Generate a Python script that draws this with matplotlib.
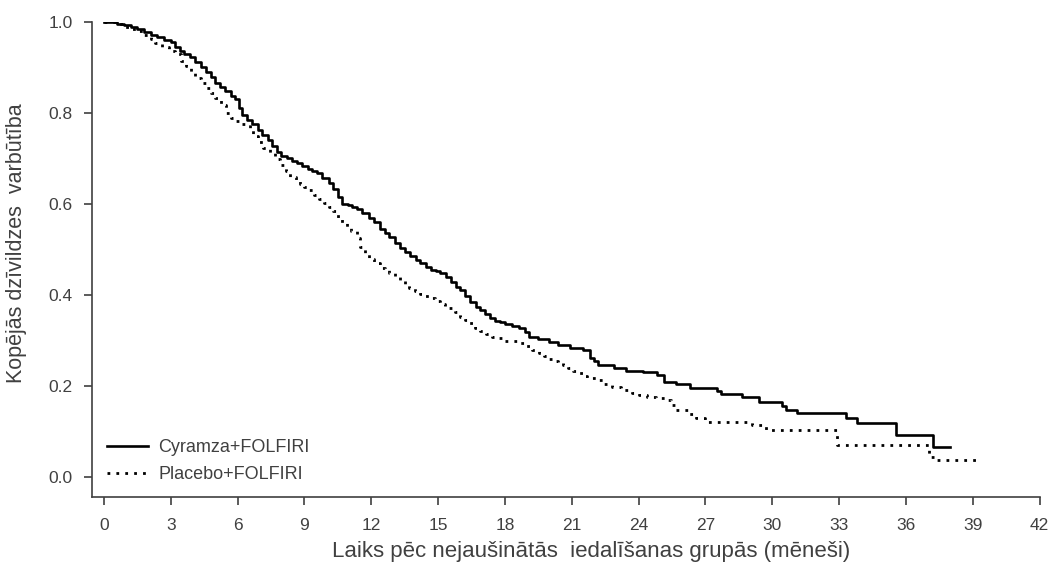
import matplotlib.pyplot as plt
import numpy as np

plt.rcParams['font.family'] = ['Liberation Sans', 'DejaVu Sans']

# Kaplan-Meier steps (months, survival probability)
cyr_t = [0, 0.3, 0.6, 0.9, 1.2, 1.5, 1.8, 2.1, 2.4, 2.7, 3.0, 3.2, 3.4, 3.6, 3.85,
         4.1, 4.35, 4.6, 4.8, 5.0, 5.2, 5.45, 5.7, 5.9, 6.05, 6.2, 6.4, 6.65, 6.9,
         7.1, 7.35, 7.55, 7.75, 7.95, 8.2, 8.45, 8.65, 8.9, 9.15, 9.35, 9.55, 9.8,
         10.1, 10.3, 10.5, 10.7, 10.95, 11.15, 11.35, 11.6, 11.9, 12.1, 12.4, 12.6,
         12.8, 13.05, 13.3, 13.5, 13.75, 14.0, 14.2, 14.45, 14.7, 14.9, 15.1,
         15.35, 15.6, 15.8, 16.0, 16.2, 16.45, 16.7, 16.9, 17.1, 17.35, 17.55,
         17.8, 18.0, 18.3, 18.65, 18.9, 19.1, 19.5, 20.0, 20.4, 20.9, 21.5, 21.8,
         22.0, 22.2, 22.9, 23.45, 24.2, 24.85, 25.15, 25.7, 26.3, 27.5, 27.7,
         28.65, 29.4, 30.45, 30.6, 31.1, 33.3, 33.8, 35.55, 37.2, 38.0]
cyr_s = [1.0, 1.0, 0.995, 0.993, 0.99, 0.985, 0.978, 0.972, 0.966, 0.96, 0.955,
         0.945, 0.936, 0.93, 0.922, 0.913, 0.902, 0.89, 0.878, 0.866, 0.858, 0.848,
         0.838, 0.83, 0.81, 0.795, 0.785, 0.775, 0.763, 0.752, 0.74, 0.727, 0.714,
         0.706, 0.70, 0.695, 0.69, 0.684, 0.678, 0.673, 0.668, 0.657, 0.646, 0.632,
         0.615, 0.60, 0.597, 0.593, 0.588, 0.58, 0.57, 0.56, 0.545, 0.536, 0.527,
         0.515, 0.503, 0.495, 0.486, 0.478, 0.47, 0.462, 0.456, 0.452, 0.448,
         0.44, 0.428, 0.418, 0.41, 0.398, 0.385, 0.374, 0.367, 0.358, 0.35, 0.344,
         0.34, 0.336, 0.332, 0.327, 0.318, 0.308, 0.303, 0.297, 0.291, 0.283,
         0.279, 0.262, 0.254, 0.246, 0.24, 0.233, 0.231, 0.224, 0.209, 0.204,
         0.196, 0.189, 0.182, 0.176, 0.165, 0.156, 0.147, 0.141, 0.13, 0.119,
         0.092, 0.066, 0.066]

pla_t = [0, 0.3, 0.6, 0.9, 1.2, 1.5, 1.8, 2.1, 2.3, 2.6, 2.9, 3.2, 3.45, 3.7, 3.9,
         4.1, 4.35, 4.6, 4.8, 5.0, 5.25, 5.5, 5.7, 5.9, 6.2, 6.55, 6.7, 6.9, 7.15,
         7.45, 7.7, 7.9, 8.15, 8.35, 8.6, 8.8, 9.0, 9.2, 9.45, 9.65, 9.9, 10.1,
         10.3, 10.5, 10.7, 10.9, 11.1, 11.35, 11.5, 11.7, 11.9, 12.1, 12.4, 12.6,
         12.8, 13.05, 13.3, 13.5, 13.7, 13.95, 14.2, 14.4, 14.6, 14.85, 15.1,
         15.3, 15.5, 15.75, 16.0, 16.2, 16.4, 16.65, 16.9, 17.15, 17.4, 17.75,
         18.0, 18.3, 18.65, 18.9, 19.2, 19.55, 19.75, 20.0, 20.2, 20.4, 20.6,
         20.85, 21.05, 21.3, 21.5, 21.7, 22.1, 22.4, 22.8, 23.2, 23.7, 24.0, 24.4,
         24.8, 25.2, 25.45, 25.7, 26.2, 26.6, 27.0, 29.1, 29.7, 32.9, 37.05, 37.3,
         39.2]
pla_s = [1.0, 1.0, 0.996, 0.99, 0.985, 0.98, 0.972, 0.962, 0.954, 0.945, 0.937,
         0.93, 0.915, 0.903, 0.89, 0.877, 0.866, 0.855, 0.844, 0.833, 0.818, 0.80,
         0.79, 0.782, 0.775, 0.763, 0.75, 0.736, 0.724, 0.712, 0.698, 0.685, 0.672,
         0.66, 0.652, 0.645, 0.637, 0.63, 0.62, 0.612, 0.602, 0.593, 0.584, 0.57,
         0.558, 0.55, 0.54, 0.525, 0.505, 0.49, 0.48, 0.47, 0.46, 0.454, 0.448,
         0.44, 0.43, 0.422, 0.415, 0.408, 0.402, 0.397, 0.393, 0.387, 0.38, 0.376,
         0.371, 0.362, 0.352, 0.345, 0.338, 0.328, 0.32, 0.314, 0.308, 0.305,
         0.30, 0.298, 0.294, 0.288, 0.28, 0.272, 0.266, 0.26, 0.256, 0.253, 0.247,
         0.24, 0.234, 0.228, 0.223, 0.218, 0.213, 0.205, 0.198, 0.192, 0.185,
         0.18, 0.176, 0.174, 0.169, 0.158, 0.147, 0.138, 0.13, 0.121, 0.114,
         0.103, 0.07, 0.044, 0.037, 0.037]

x_ticks = np.arange(0, 43, 3)
y_ticks = [0.0, 0.2, 0.4, 0.6, 0.8, 1.0]

grey = '#404040'

fig = plt.figure(figsize=(10.5, 5.78), dpi=100)
ax = fig.add_axes([0.088, 0.140, 0.902, 0.822])

ax.step(cyr_t, cyr_s, where='post', color='black', lw=1.9,
        label='Cyramza+FOLFIRI')
ax.step(pla_t, pla_s, where='post', color='black', lw=2.0,
        linestyle=(0, (1, 2.2)), label='Placebo+FOLFIRI')

ax.set_xlim(-0.52, 42)
ax.set_ylim(-0.044, 1.0)
ax.set_xticks(x_ticks)
ax.set_yticks(y_ticks)
ax.set_yticklabels([f'{v:.1f}' for v in y_ticks])

for side in ['top', 'right']:
    ax.spines[side].set_visible(False)
for side in ['left', 'bottom']:
    ax.spines[side].set_color(grey)
    ax.spines[side].set_linewidth(1.2)
ax.tick_params(axis='both', colors=grey, labelsize=12.5, length=6, width=1.2,
               direction='out', pad=8)
ax.tick_params(axis='x', pad=9)

ax.set_xlabel('Laiks pēc nejaušinātās  iedalīšanas grupās (mēneši)',
              fontsize=16, color=grey)
ax.xaxis.set_label_coords(0.527, -0.092)
ax.set_ylabel('Kopējās dzīvildzes  varbūtība', fontsize=15.5, color=grey)
ax.yaxis.set_label_coords(-0.069, 0.535)

leg = ax.legend(loc='lower left', bbox_to_anchor=(0.0153, 0.029), frameon=False,
                fontsize=13, handlelength=2.3, handletextpad=0.55,
                labelspacing=0.55, borderaxespad=0, borderpad=0)
for t in leg.get_texts():
    t.set_color(grey)

fig.savefig('out.png', dpi=100)
